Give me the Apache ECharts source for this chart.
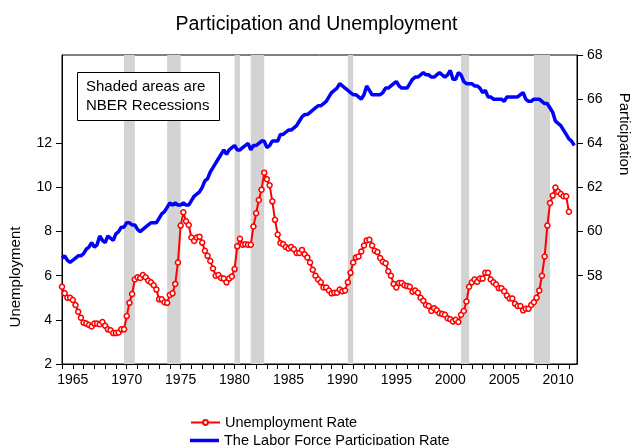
<!DOCTYPE html>
<html>
<head>
<meta charset="utf-8">
<script src="https://cdn.jsdelivr.net/npm/echarts@6/dist/echarts.min.js"></script>
<style>
  html, body { margin: 0; padding: 0; background: #fff; }
  #chart { width: 633px; height: 445px; }
</style>
</head>
<body>
<div id="chart"></div>
<script>
// quarterly data, first observation 1964Q1
const startYear = 1964;
const unemployment = [
  5.5, 5.2, 5.0, 5.0,   4.9, 4.67, 4.37, 4.1,   3.87, 3.83, 3.77, 3.7,   3.83, 3.83, 3.8, 3.9,
  3.73, 3.57, 3.53, 3.4,   3.4, 3.43, 3.57, 3.57,   4.17, 4.77, 5.17, 5.83,   5.93, 5.9, 6.03, 5.93,
  5.77, 5.7, 5.57, 5.37,   4.93, 4.93, 4.8, 4.77,   5.13, 5.2, 5.63, 6.6,   8.27, 8.87, 8.47, 8.3,
  7.73, 7.57, 7.73, 7.77,   7.5, 7.13, 6.9, 6.67,   6.33, 6.0, 6.03, 5.9,   5.87, 5.7, 5.87, 5.97,
  6.3, 7.33, 7.67, 7.4,   7.43, 7.4, 7.4, 8.23,   8.83, 9.43, 9.9, 10.67,   10.37, 10.1, 9.37, 8.53,
  7.87, 7.48, 7.43, 7.3,   7.23, 7.3, 7.2, 7.03,   7.03, 7.17, 6.97, 6.83,   6.6, 6.27, 6.0, 5.83,
  5.7, 5.47, 5.47, 5.33,   5.2, 5.23, 5.23, 5.37,   5.3, 5.33, 5.7, 6.13,   6.6, 6.83, 6.87, 7.1,
  7.37, 7.6, 7.63, 7.37,   7.13, 7.07, 6.8, 6.63,   6.57, 6.2, 6.0, 5.63,   5.47, 5.67, 5.67, 5.57,
  5.53, 5.5, 5.27, 5.33,   5.23, 5.0, 4.87, 4.67,   4.63, 4.4, 4.53, 4.43,   4.3, 4.27, 4.23, 4.07,
  4.03, 3.93, 4.0, 3.9,   4.23, 4.4, 4.83, 5.5,   5.7, 5.83, 5.73, 5.87,   5.87, 6.13, 6.13, 5.83,
  5.7, 5.6, 5.43, 5.43,   5.3, 5.1, 4.97, 4.97,   4.73, 4.63, 4.63, 4.43,   4.5, 4.5, 4.67, 4.8,
  5.0, 5.33, 6.0, 6.87,   8.27, 9.3, 9.63, 10.0,   9.8, 9.7, 9.6, 9.6,   8.9
];
const participation = [
  58.8, 58.9, 58.7, 58.6,   58.7, 58.8, 58.9, 58.9,   59.0, 59.2, 59.3, 59.5,   59.3, 59.4, 59.8, 59.6,
  59.5, 59.8, 59.7, 59.6,   59.9, 60.0, 60.2, 60.2,   60.4, 60.4, 60.3, 60.3,   60.1, 60.0, 60.1, 60.2,
  60.3, 60.4, 60.4, 60.4,   60.6, 60.8, 60.9, 61.1,   61.3, 61.2, 61.3, 61.2,   61.2, 61.3, 61.2, 61.2,
  61.4, 61.6, 61.7, 61.8,   62.0, 62.3, 62.4, 62.7,   62.9, 63.1, 63.3, 63.5,   63.7, 63.5, 63.7, 63.8,
  63.9, 63.7, 63.7, 63.8,   63.9, 64.0, 63.7, 63.9,   63.9, 64.0, 64.1, 64.1,   63.8, 63.9, 64.1, 64.1,
  64.1, 64.4, 64.4, 64.5,   64.6, 64.6, 64.7, 64.8,   65.0, 65.2, 65.3, 65.3,   65.4, 65.5, 65.6, 65.7,
  65.7, 65.8, 65.9, 66.1,   66.3, 66.4, 66.5, 66.7,   66.6, 66.5, 66.4, 66.3,   66.2, 66.2, 66.1, 66.0,
  66.2, 66.6, 66.4, 66.2,   66.2, 66.2, 66.2, 66.3,   66.5, 66.5, 66.6, 66.7,   66.8, 66.6, 66.5, 66.5,
  66.5, 66.7, 66.9, 67.0,   67.0, 67.1, 67.2, 67.1,   67.1, 67.0, 67.0, 67.1,   67.2, 67.1, 67.0, 67.1,
  67.3, 66.9, 66.9, 67.2,   67.1, 66.8, 66.7, 66.7,   66.7, 66.6, 66.6, 66.5,   66.3, 66.4, 66.1, 66.1,
  66.0, 66.0, 66.0, 66.0,   65.9, 66.1, 66.1, 66.1,   66.1, 66.1, 66.2, 66.3,   66.0, 65.9, 65.9, 66.0,
  66.0, 66.0, 65.9, 65.8,   65.8, 65.6, 65.4, 65.0,   64.9, 64.8, 64.6, 64.4,   64.2, 64.1, 63.9
];
// NBER recessions, [start, end] in years (quarter start)
const recessions = [
  [1969.75, 1970.75], [1973.75, 1975.0], [1980.0, 1980.5], [1981.5, 1982.75],
  [1990.5, 1991.0], [2001.0, 2001.75], [2007.75, 2009.25]
];
const yearLabels = [1965, 1970, 1975, 1980, 1985, 1990, 1995, 2000, 2005, 2010];
const leftTicks = [2, 4, 6, 8, 10, 12];
const rightTicks = [58, 60, 62, 64, 66, 68];

const font = "'Liberation Sans', Arial, sans-serif";
const toPairs = arr => arr.map((v, i) => [startYear + i / 4, v]);
const yearTicks = [];
for (let y = 1964; y <= 2011; y++) yearTicks.push(y);

const legendText = { fontFamily: font, fontSize: 14.5, color: "#000" };

let myChart = echarts.init(document.getElementById("chart"));
myChart.setOption({
  animation: false,
  textStyle: { fontFamily: font, color: "#000" },
  title: {
    text: "Participation and Unemployment",
    left: "center",
    top: 10,
    textStyle: { fontFamily: font, fontSize: 19.5, fontWeight: "normal", color: "#000" }
  },
  grid: {
    left: 62, right: 56, top: 55, bottom: 81,
    show: true, borderColor: "#000", borderWidth: 1, backgroundColor: "transparent"
  },
  legend: [
    {
      left: 190, top: 415, padding: 0,
      itemWidth: 29, itemHeight: 6,
      data: ["Unemployment Rate"],
      textStyle: legendText
    },
    {
      left: 190, top: 433, padding: 0,
      itemWidth: 29, itemHeight: 3.5,
      data: [{ name: "The Labor Force Participation Rate", icon: "rect" }],
      textStyle: legendText
    }
  ],
  xAxis: {
    type: "value",
    min: 1964,
    max: 2011.75,
    interval: 1,
    splitLine: { show: false },
    axisLine: { onZero: false, lineStyle: { color: "#000", width: 1 } },
    axisTick: { length: 5, customValues: yearTicks, lineStyle: { color: "#000" } },
    axisLabel: {
      customValues: yearLabels, margin: 9, fontSize: 14, color: "#000", fontFamily: font,
      formatter: v => String(Math.round(v))
    }
  },
  yAxis: [
    {
      type: "value",
      min: 2, max: 16, interval: 2,
      splitLine: { show: false },
      axisLine: { show: true, lineStyle: { color: "#000" } },
      axisTick: { show: true, length: 6, customValues: leftTicks, lineStyle: { color: "#000" } },
      axisLabel: { customValues: leftTicks, margin: 10, fontSize: 14, color: "#000", fontFamily: font }
    },
    {
      type: "value",
      min: 54, max: 68, interval: 2,
      position: "right",
      splitLine: { show: false },
      axisLine: { show: true, lineStyle: { color: "#000" } },
      axisTick: { show: true, length: 6, customValues: rightTicks, lineStyle: { color: "#000" } },
      axisLabel: { customValues: rightTicks, margin: 10, fontSize: 14, color: "#000", fontFamily: font }
    }
  ],
  series: [
    {
      name: "recessions",
      type: "line",
      data: [],
      z: 1,
      silent: true,
      markArea: {
        silent: true,
        itemStyle: { color: "#d3d3d3" },
        data: recessions.map(r => [{ xAxis: r[0] }, { xAxis: r[1] }])
      }
    },
    {
      name: "The Labor Force Participation Rate",
      type: "line",
      yAxisIndex: 1,
      z: 3,
      data: toPairs(participation),
      showSymbol: false,
      symbol: "none",
      lineStyle: { color: "#0000ff", width: 3.5 },
      itemStyle: { color: "#0000ff" }
    },
    {
      name: "Unemployment Rate",
      type: "line",
      yAxisIndex: 0,
      z: 4,
      data: toPairs(unemployment),
      symbol: "circle",
      symbolSize: 5,
      lineStyle: { color: "#ff0000", width: 2 },
      itemStyle: { color: "#ffffff", borderColor: "#ff0000", borderWidth: 1.5 }
    }
  ],
  graphic: [
    {
      type: "rect",
      z: 10,
      shape: { x: 77.5, y: 72.5, width: 142, height: 48 },
      style: { fill: "#fff", stroke: "#000", lineWidth: 1 }
    },
    {
      type: "text",
      z: 11,
      x: 86, y: 87,
      style: { text: "Shaded areas are", font: "15px " + font, fill: "#000", textVerticalAlign: "middle" }
    },
    {
      type: "text",
      z: 11,
      x: 86, y: 106,
      style: { text: "NBER Recessions", font: "15px " + font, fill: "#000", textVerticalAlign: "middle" }
    },
    {
      type: "text",
      x: 16, y: 277,
      rotation: Math.PI / 2,
      style: { text: "Unemployment", font: "15px " + font, fill: "#000", align: "center", verticalAlign: "middle" }
    },
    {
      type: "text",
      x: 624, y: 134,
      rotation: -Math.PI / 2,
      style: { text: "Participation", font: "15px " + font, fill: "#000", align: "center", verticalAlign: "middle" }
    }
  ]
});
</script>
</body>
</html>
